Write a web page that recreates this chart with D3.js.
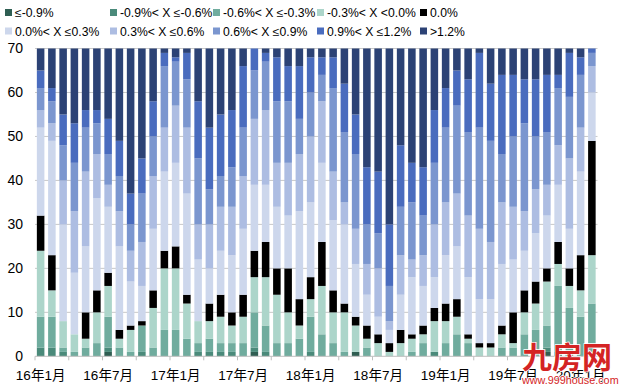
<!DOCTYPE html>
<html>
<head>
<meta charset="utf-8">
<script src="https://cdn.jsdelivr.net/npm/d3@7"></script>
<style>
  body { margin: 0; background: #fff; }
  svg { display: block; font-family: "Liberation Sans", Arial, "Noto Sans CJK SC", sans-serif; }
</style>
</head>
<body>
<svg></svg>
<script>
// months, Jan 2016 - Feb 2020
const months = [
  "16-01","16-02","16-03","16-04","16-05","16-06","16-07","16-08","16-09","16-10","16-11","16-12",
  "17-01","17-02","17-03","17-04","17-05","17-06","17-07","17-08","17-09","17-10","17-11","17-12",
  "18-01","18-02","18-03","18-04","18-05","18-06","18-07","18-08","18-09","18-10","18-11","18-12",
  "19-01","19-02","19-03","19-04","19-05","19-06","19-07","19-08","19-09","19-10","19-11","19-12",
  "20-01","20-02"
];
// label shown under every 6th month
const labelMonths = ["16-01","16-07","17-01","17-07","18-01","18-07","19-01","19-07","20-01"];
const labelText = ["16年1月","16年7月","17年1月","17年7月","18年1月","18年7月","19年1月","19年7月","20年1月"];
const yTicks = [0, 10, 20, 30, 40, 50, 60, 70];

// number of cities in each band of month-on-month change
const le09   = [0,0,0,0,0,0,1,0,0,0,0,0,0,0,0,0,0,0,0,1,0,0,0,0,0,0,0,0,1,0,0,0,0,0,0,0,0,0,0,0,0,0,0,0,0,1,0,0,0,0];
const n09n06 = [2,2,1,0,0,0,1,0,0,1,0,0,0,0,1,1,1,1,0,1,1,0,0,0,1,0,0,0,0,0,0,0,0,0,0,1,0,0,0,0,0,0,0,0,0,1,1,1,0,0];
const n06n03 = [7,7,1,1,2,3,7,2,1,6,2,6,6,4,2,3,2,2,3,8,6,3,3,4,8,5,3,1,0,2,0,0,0,1,3,0,3,5,3,0,0,2,2,5,6,5,15,10,9,12];
const n03z   = [15,6,6,4,2,7,7,2,5,0,9,14,14,8,5,4,6,4,6,8,11,11,7,3,4,11,7,9,6,2,3,1,3,3,2,7,5,4,1,2,2,3,1,5,6,10,5,5,6,11];
const zero   = [8,8,0,0,6,5,3,2,1,1,4,4,5,2,0,4,5,3,5,6,8,6,10,6,5,10,5,2,2,3,2,2,3,1,2,3,4,4,1,1,1,2,7,5,5,3,5,4,8,26];
const p0p03  = [20,26,22,14,15,21,15,19,10,8,14,18,19,23,14,8,10,13,15,15,13,14,12,20,17,18,16,18,12,7,4,3,8,13,9,7,11,12,13,10,10,14,12,9,11,12,13,9,19,11];
const p03p06 = [4,4,10,14,17,10,5,8,7,10,12,10,13,15,8,10,10,11,12,15,17,10,12,13,15,14,11,5,8,7,11,2,9,4,7,12,12,12,14,16,13,14,12,9,10,7,9,16,10,6];
const p06p09 = [5,5,8,11,10,7,7,8,6,11,9,14,10,11,15,8,7,9,11,11,11,14,14,8,10,6,19,16,17,9,8,8,11,13,9,14,17,20,19,23,23,11,16,20,12,12,13,14,12,3];
const p09p12 = [4,3,7,9,4,3,8,8,7,8,8,3,1,6,13,14,14,13,14,5,2,10,8,12,8,4,7,11,9,13,14,14,14,9,11,12,9,8,12,17,13,18,14,10,13,13,3,10,4,1];
const gt12   = [5,9,15,17,14,14,16,21,33,25,12,1,2,1,12,18,15,14,4,0,1,2,4,4,2,2,2,8,15,27,28,40,22,26,27,14,9,5,7,1,8,6,6,7,7,6,6,1,2,0];

const seriesNames = ["≤-0.9%", "-0.9%< X ≤-0.6%", "-0.6%< X ≤-0.3%", "-0.3%< X <0.0%", "0.0%",
  "0.0%< X ≤0.3%", "0.3%< X ≤0.6%", "0.6%< X ≤0.9%", "0.9%< X ≤1.2%", ">1.2%"];
const seriesValues = [le09, n09n06, n06n03, n03z, zero, p0p03, p03p06, p06p09, p09p12, gt12];
const colors = ["#2f5e52", "#4a8a7a", "#70ac9e", "#acd5ca", "#000000",
  "#cdd7ec", "#adbde2", "#7b96cf", "#4a6cbe", "#2c4275"];

// table for d3.stack
const table = months.map((m, i) => {
  const row = { month: m };
  seriesNames.forEach((k, j) => { row[k] = seriesValues[j][i]; });
  return row;
});

const W = 625, H = 390;
const svg = d3.select("svg").attr("width", W).attr("height", H);

const x = d3.scaleBand()
  .domain(months)
  .range([35, 597.5])
  .paddingInner(0.33)
  .paddingOuter(0.165);
const y = d3.scaleLinear()
  .domain([0, 70])
  .range([356.3, 48.5]);

// gridlines
svg.append("g")
  .selectAll("line")
  .data(yTicks.filter(d => d > 0))
  .join("line")
  .attr("x1", 35).attr("x2", 597.5)
  .attr("y1", d => y(d)).attr("y2", d => y(d))
  .attr("stroke", "#c8c8c8")
  .attr("stroke-width", 1);

// stacked bars
const stacked = d3.stack().keys(seriesNames)(table);
svg.append("g")
  .selectAll("g")
  .data(stacked)
  .join("g")
  .attr("fill", (d, i) => colors[i])
  .selectAll("rect")
  .data(d => d)
  .join("rect")
  .attr("x", d => x(d.data.month))
  .attr("width", x.bandwidth())
  .attr("y", d => y(d[1]))
  .attr("height", d => y(d[0]) - y(d[1]));

// y axis labels
const yAxis = svg.append("g")
  .attr("transform", "translate(35,0)")
  .call(d3.axisLeft(y).tickValues(yTicks).tickSize(0).tickPadding(12));
yAxis.select(".domain").remove();
yAxis.selectAll("text").attr("font-size", 14).attr("fill", "#000")
  .attr("font-family", "Liberation Sans, Arial, sans-serif");

// x axis: line, ticks every 3 months, labels every 6
const step = x.step();
const tickPos = d3.range(0, months.length + 1, 3).map(i => 35 + i * step);
const xAxis = svg.append("g");
xAxis.append("line")
  .attr("x1", 35).attr("x2", 597.5)
  .attr("y1", y(0)).attr("y2", y(0))
  .attr("stroke", "#bfbfbf");
xAxis.selectAll(".tk")
  .data(tickPos)
  .join("line")
  .attr("class", "tk")
  .attr("x1", d => d).attr("x2", d => d)
  .attr("y1", y(0)).attr("y2", y(0) + 4)
  .attr("stroke", "#bfbfbf");
xAxis.selectAll("text")
  .data(labelMonths)
  .join("text")
  .attr("x", d => x(d) + x.bandwidth() / 2)
  .attr("y", 380)
  .attr("text-anchor", "middle")
  .attr("font-size", 13.5)
  .attr("fill", "#000")
  .text((d, i) => labelText[i]);

// legend, two rows of five
const legendX = [5, 110, 213, 317, 420];
const legendY = [12.5, 31];
const legend = svg.append("g")
  .selectAll("g")
  .data(seriesNames)
  .join("g")
  .attr("transform", (d, i) => `translate(${legendX[i % 5]},${legendY[Math.floor(i / 5)]})`);
legend.append("rect")
  .attr("x", 0).attr("y", -3.5)
  .attr("width", 7).attr("height", 7)
  .attr("fill", (d, i) => colors[i]);
legend.append("text")
  .attr("x", 10)
  .attr("y", 4.5)
  .attr("font-size", 12.2)
  .attr("fill", "#000")
  .text(d => d);

// watermark
const wm = svg.append("g").attr("fill", "#d42424");
wm.append("text")
  .attr("x", 522).attr("y", 368)
  .attr("font-size", 30)
  .attr("font-weight", "bold")
  .attr("font-family", "Noto Sans CJK SC, sans-serif")
  .attr("stroke", "#fff").attr("stroke-width", 1.5).attr("paint-order", "stroke")
  .text("九房网");
wm.append("text")
  .attr("x", 522).attr("y", 384)
  .attr("font-size", 10.8)
  .attr("stroke", "#fff").attr("stroke-width", 1.5).attr("paint-order", "stroke")
  .text("www.999house.com");
</script>
</body>
</html>
